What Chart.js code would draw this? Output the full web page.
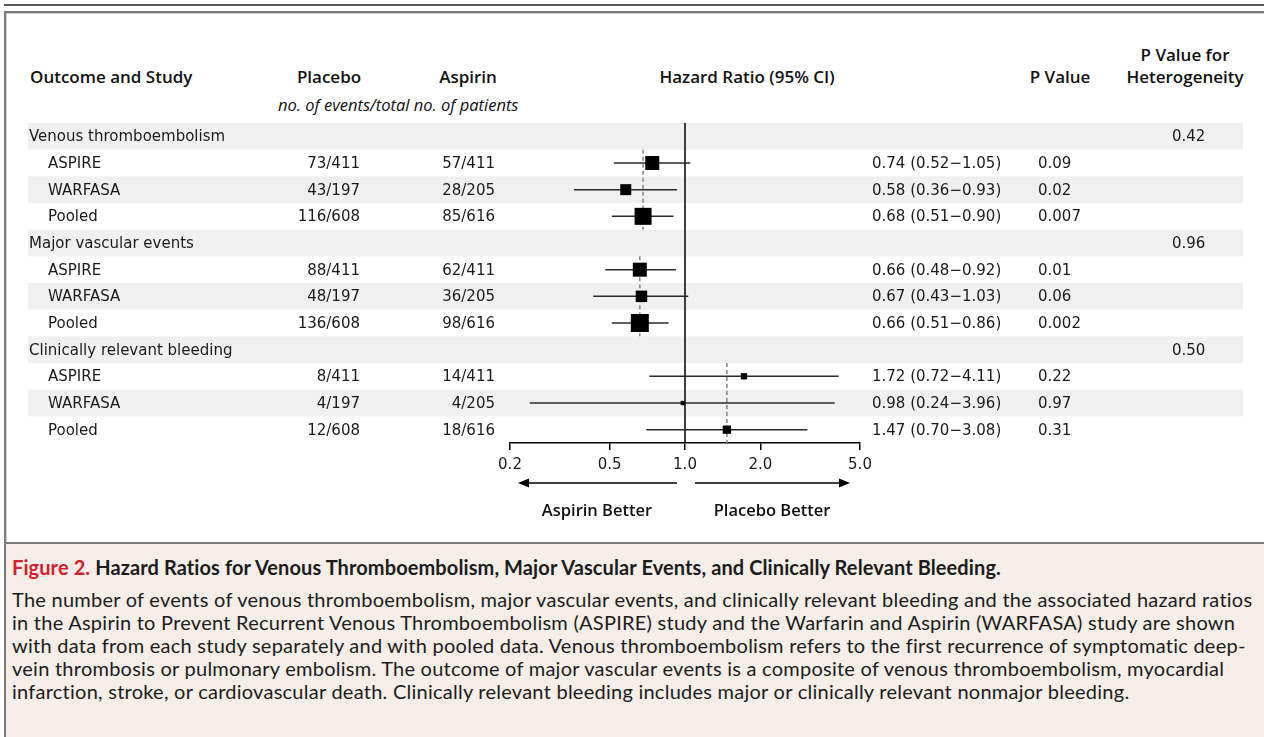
<!DOCTYPE html>
<html>
<head>
    <title>Aspirin forest plot</title>
    <style>
        body { margin: 0; background: #fff; }
        #page { position: relative; width: 1264px; height: 737px; overflow: hidden; }
        .rule { position: absolute; left: 4px; right: 0; top: 4px; height: 2px; background: #555; }
        .frame { position: absolute; left: 4px; right: -4px; top: 11px; bottom: -4px;
                 border-top: 2px solid #7b7b7b; border-left: 2px solid #7b7b7b;
                 box-shadow: inset 1px 1px 0 #d0d0d0; }
        .divider { position: absolute; left: 6px; right: 0; top: 542px; height: 2px; background: #7b7b7b; }
        .head { position: absolute; font-family: "Open Sans", sans-serif; font-weight: 600;
                font-size: 17px; line-height: 22px; color: #111; white-space: nowrap; }
        .c { width: 240px; text-align: center; }
        .sub { font-weight: 400; font-style: italic; font-size: 16.5px; }
        #plot { position: absolute; left: 0; top: 0; width: 1264px; height: 542px; }
        .caption { position: absolute; left: 6px; right: 0; top: 544px; bottom: 0; background: #f4ede8; }
        .cap { position: absolute; left: 6px; font-family: "Lato", sans-serif; letter-spacing: 0.25px;
               color: #1c1c1c; white-space: nowrap; font-size: 20px; line-height: 23px; }
        .cap b { font-weight: 700; letter-spacing: 0.1px; }
        .red { color: #d3202e; }
    </style>
</head>
<body>
<div id="page">
    <div class="rule"></div>
    <div class="frame"></div>

    <div class="head" style="left:30px; top:66px">Outcome and Study</div>
    <div class="head c" style="left:209px; top:66px">Placebo</div>
    <div class="head c" style="left:348px; top:66px">Aspirin</div>
    <div class="head c sub" style="left:278px; top:94px">no. of events/total no. of patients</div>
    <div class="head c" style="left:627px; top:66px">Hazard Ratio (95% CI)</div>
    <div class="head c" style="left:940px; top:66px">P Value</div>
    <div class="head c" style="left:1065px; top:44px">P Value for<br>Heterogeneity</div>

    <div id="plot"><canvas id="forest"></canvas></div>

    <div class="divider"></div>
    <div class="caption">
        <div class="cap" style="top:12px"><b><span class="red">Figure 2.</span> Hazard Ratios for Venous Thromboembolism, Major Vascular Events, and Clinically Relevant Bleeding.</b></div>
        <div class="cap" style="top:44px">
            The number of events of venous thromboembolism, major vascular events, and clinically relevant bleeding and the associated hazard ratios<br>
            in the Aspirin to Prevent Recurrent Venous Thromboembolism (ASPIRE) study and the Warfarin and Aspirin (WARFASA) study are shown<br>
            with data from each study separately and with pooled data. Venous thromboembolism refers to the first recurrence of symptomatic deep-<br>
            vein thrombosis or pulmonary embolism. The outcome of major vascular events is a composite of venous thromboembolism, myocardial<br>
            infarction, stroke, or cardiovascular death. Clinically relevant bleeding includes major or clinically relevant nonmajor bleeding.
        </div>
    </div>
</div>

<script src="https://cdn.jsdelivr.net/npm/chart.js"></script>
<script>
    // one entry per table row, top to bottom
    const rowLabels = ['Venous thromboembolism', 'ASPIRE', 'WARFASA', 'Pooled',
        'Major vascular events', 'ASPIRE', 'WARFASA', 'Pooled',
        'Clinically relevant bleeding', 'ASPIRE', 'WARFASA', 'Pooled'];
    const isGroup = [true, false, false, false, true, false, false, false, true, false, false, false];
    const placebo = [null, '73/411', '43/197', '116/608', null, '88/411', '48/197', '136/608', null, '8/411', '4/197', '12/608'];
    const aspirin = [null, '57/411', '28/205', '85/616', null, '62/411', '36/205', '98/616', null, '14/411', '4/205', '18/616'];
    const hazardRatio = [null, 0.74, 0.58, 0.68, null, 0.66, 0.67, 0.66, null, 1.72, 0.98, 1.47];
    const ciLow = [null, 0.52, 0.36, 0.51, null, 0.48, 0.43, 0.51, null, 0.72, 0.24, 0.70];
    const ciHigh = [null, 1.05, 0.93, 0.90, null, 0.92, 1.03, 0.86, null, 4.11, 3.96, 3.08];
    const pValue = [null, '0.09', '0.02', '0.007', null, '0.01', '0.06', '0.002', null, '0.22', '0.97', '0.31'];
    const pHetero = ['0.42', null, null, null, '0.96', null, null, null, '0.50', null, null, null];
    const studyWeight = [null, 14, 11, 17, null, 14, 11.5, 18, null, 6.3, 4.3, 8.3];
    const xTicks = [0.2, 0.5, 1, 2, 5];

    const rows = rowLabels.map((_, i) => i);
    const fmt = v => v.toFixed(2);
    const tableFont = '15px "DejaVu Sans"';

    const squares = {
        data: rows.filter(i => hazardRatio[i] != null).map(i => ({x: hazardRatio[i], y: i + 0.5})),
        pointStyle: 'rect',
        pointRadius: rows.filter(i => hazardRatio[i] != null).map(i => studyWeight[i] / Math.SQRT2),
        backgroundColor: '#000',
        borderWidth: 0,
        clip: false
    };

    const ciLines = rows.filter(i => hazardRatio[i] != null).map(i => ({
        data: [{x: ciLow[i], y: i + 0.5}, {x: ciHigh[i], y: i + 0.5}],
        showLine: true,
        borderColor: '#2a2a2a',
        borderWidth: 1.5,
        pointRadius: 0
    }));

    // dashed line at the pooled estimate, spanning the group's study rows
    const pooledLines = rows.filter(i => isGroup[i]).map(g => ({
        data: [{x: hazardRatio[g + 3], y: g + 1}, {x: hazardRatio[g + 3], y: g + 4}],
        showLine: true,
        borderColor: '#858585',
        borderWidth: 1.5,
        borderDash: [4, 3],
        pointRadius: 0
    }));

    const noEffect = {
        data: [{x: 1, y: 0}, {x: 1, y: rows.length}],
        showLine: true,
        borderColor: '#000',
        borderWidth: 1.5,
        pointRadius: 0
    };

    const rowShading = {
        id: 'rowShading',
        beforeDraw(chart) {
            const {ctx} = chart;
            const y = chart.scales.y;
            ctx.save();
            ctx.fillStyle = '#f0f0f0';
            rows.forEach(i => {
                if (i % 2 === 0) {
                    const top = y.getPixelForValue(i);
                    ctx.fillRect(28, top, 1243 - 28, y.getPixelForValue(i + 1) - top);
                }
            });
            ctx.restore();
        }
    };

    const tableText = {
        id: 'tableText',
        afterDraw(chart) {
            const {ctx} = chart;
            const x = chart.scales.x;
            const y = chart.scales.y;
            ctx.save();
            ctx.font = tableFont;
            ctx.fillStyle = '#1a1a1a';
            ctx.textBaseline = 'middle';
            rows.forEach(i => {
                const py = y.getPixelForValue(i + 0.5) + 1;
                ctx.textAlign = 'left';
                ctx.fillText(rowLabels[i], isGroup[i] ? 29 : 48, py);
                if (hazardRatio[i] != null) {
                    ctx.fillText(fmt(hazardRatio[i]) + ' (' + fmt(ciLow[i]) + '\u2212' + fmt(ciHigh[i]) + ')', 872, py);
                    ctx.fillText(pValue[i], 1038, py);
                    ctx.textAlign = 'right';
                    ctx.fillText(placebo[i], 360, py);
                    ctx.fillText(aspirin[i], 495, py);
                }
                if (pHetero[i] != null) {
                    ctx.textAlign = 'left';
                    ctx.fillText(pHetero[i], 1172, py);
                }
            });

            // direction arrows under the axis
            const x1 = x.getPixelForValue(1);
            const ay = 483;
            ctx.strokeStyle = '#000';
            ctx.fillStyle = '#000';
            ctx.lineWidth = 1.5;
            const arrow = (from, to) => {
                const dir = Math.sign(to - from);
                ctx.beginPath();
                ctx.moveTo(from, ay);
                ctx.lineTo(to - dir * 8, ay);
                ctx.stroke();
                ctx.beginPath();
                ctx.moveTo(to, ay);
                ctx.lineTo(to - dir * 11, ay - 4.5);
                ctx.lineTo(to - dir * 11, ay + 4.5);
                ctx.closePath();
                ctx.fill();
            };
            arrow(x1 - 8, x.getPixelForValue(0.2) + 8);
            arrow(x1 + 10, x.getPixelForValue(5) - 10);

            ctx.font = '600 16.5px "Open Sans"';
            ctx.textAlign = 'center';
            ctx.fillStyle = '#111';
            ctx.fillText('Aspirin Better', 597, 511);
            ctx.fillText('Placebo Better', 772, 511);
            ctx.restore();
        }
    };

    const chart = new Chart(document.getElementById('forest'), {
        type: 'scatter',
        data: {datasets: [squares, ...ciLines, ...pooledLines, noEffect]},
        options: {
            responsive: true,
            maintainAspectRatio: false,
            animation: false,
            events: [],
            layout: {padding: {left: 510, right: 404, top: 123, bottom: 0}},
            plugins: {legend: {display: false}, tooltip: {enabled: false}},
            scales: {
                x: {
                    type: 'logarithmic',
                    min: 0.2,
                    max: 5,
                    afterBuildTicks: s => { s.ticks = xTicks.map(v => ({value: v})); },
                    afterFit: s => { s.height = 99; },
                    grid: {drawOnChartArea: false, drawTicks: true, tickLength: 7, color: '#000', lineWidth: 1.5},
                    border: {display: true, color: '#000', width: 1.5},
                    ticks: {
                        autoSkip: false,
                        maxRotation: 0,
                        padding: 6,
                        color: '#1a1a1a',
                        font: {family: 'DejaVu Sans', size: 15},
                        callback: v => Number(v).toFixed(1)
                    }
                },
                y: {
                    type: 'linear',
                    min: 0,
                    max: rows.length,
                    reverse: true,
                    display: false
                }
            }
        },
        plugins: [rowShading, tableText]
    });
</script>
</body>
</html>
